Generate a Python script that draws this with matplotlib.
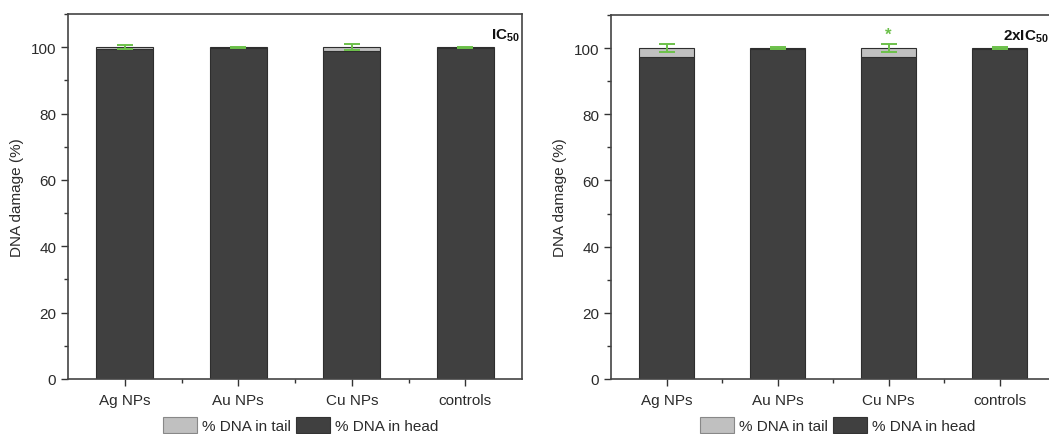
import matplotlib
matplotlib.use("Agg")
import matplotlib.pyplot as plt
from matplotlib.ticker import MultipleLocator, FixedLocator
from matplotlib.patches import Patch

plt.rcParams['font.family'] = ['Liberation Sans', 'DejaVu Sans']
plt.rcParams['mathtext.default'] = 'regular'
plt.rcParams['font.size'] = 11

categories = ['Ag NPs', 'Au NPs', 'Cu NPs', 'controls']

ic50_head = [99.6, 99.8, 98.9, 99.7]
ic50_tail = [0.4, 0.2, 1.1, 0.3]
ic50_err = [0.6, 0.2, 0.9, 0.2]

ic50x2_head = [97.4, 99.8, 97.2, 99.7]
ic50x2_tail = [2.6, 0.2, 2.8, 0.3]
ic50x2_err = [1.3, 0.2, 1.25, 0.2]
ic50x2_sig = ['', '', '*', '']

panel_titles = ['IC$_{50}$', '2xIC$_{50}$']
legend_labels = ['% DNA in tail', '% DNA in head']

HEAD = '#404040'
TAIL = '#c0c0c0'
EDGE = '#2e2e2e'
GREEN = '#6cc04a'
TXT = '#2b2b2b'

W, H = 1049, 435
fig = plt.figure(figsize=(W / 100, H / 100), dpi=100)

ax1 = fig.add_axes([68 / W, 55 / H, 454 / W, 365 / H])
ax2 = fig.add_axes([611 / W, 55 / H, 444 / W, 364 / H])


def draw(ax, head, tail, err, title, title_x, sig=None):
    x = list(range(len(categories)))
    ax.bar(x, head, width=0.5, color=HEAD, edgecolor=EDGE, linewidth=0.8, zorder=2)
    ax.bar(x, tail, width=0.5, bottom=head, color=TAIL, edgecolor=EDGE,
           linewidth=0.8, zorder=2)
    tops = [h + t for h, t in zip(head, tail)]
    ax.errorbar(x, tops, yerr=err, fmt='none', ecolor=GREEN, elinewidth=1.4,
                capsize=6, capthick=1.4, zorder=3)
    if sig:
        for xi, top, e, s in zip(x, tops, err, sig):
            if s:
                ax.text(xi, top + e + 0.8, s, color=GREEN, ha='center',
                        va='bottom', fontsize=12, fontweight='bold')
    ax.set_xlim(-0.5, 3.5)
    ax.set_ylim(0, 110)
    ax.set_xticks(x)
    ax.set_xticklabels(categories, color=TXT)
    ax.xaxis.set_minor_locator(FixedLocator([0.5, 1.5, 2.5]))
    ax.yaxis.set_major_locator(MultipleLocator(20))
    ax.yaxis.set_minor_locator(MultipleLocator(10))
    ax.tick_params(axis='both', which='major', direction='out', length=5,
                   width=1.0, color='#333333', labelcolor=TXT, labelsize=11)
    ax.tick_params(axis='both', which='minor', direction='out', length=3,
                   width=1.0, color='#333333')
    ax.tick_params(axis='x', pad=5)
    for sp in ax.spines.values():
        sp.set_color('#444444')
        sp.set_linewidth(1.2)
    ax.set_ylabel('DNA damage (%)', color=TXT, fontsize=11, labelpad=5)
    ax.text(title_x, 0.965, title, transform=ax.transAxes, ha='right', va='top',
            fontweight='bold', fontsize=11, color='#111111')


draw(ax1, ic50_head, ic50_tail, ic50_err, panel_titles[0], 0.995)
draw(ax2, ic50x2_head, ic50x2_tail, ic50x2_err, panel_titles[1], 0.985,
     ic50x2_sig)

handles = [Patch(facecolor=TAIL, edgecolor='#888888', linewidth=0.8),
           Patch(facecolor=HEAD, edgecolor='#333333', linewidth=0.8)]
for cx in (301 / W, 838 / W):
    fig.legend(handles, legend_labels, loc='center', bbox_to_anchor=(cx, 9 / H),
               ncol=2, frameon=False, handlelength=2.2, handleheight=1.3,
               handletextpad=0.35, columnspacing=0.35, fontsize=11,
               labelcolor=TXT, borderpad=0)

fig.savefig('out.png', dpi=100)
